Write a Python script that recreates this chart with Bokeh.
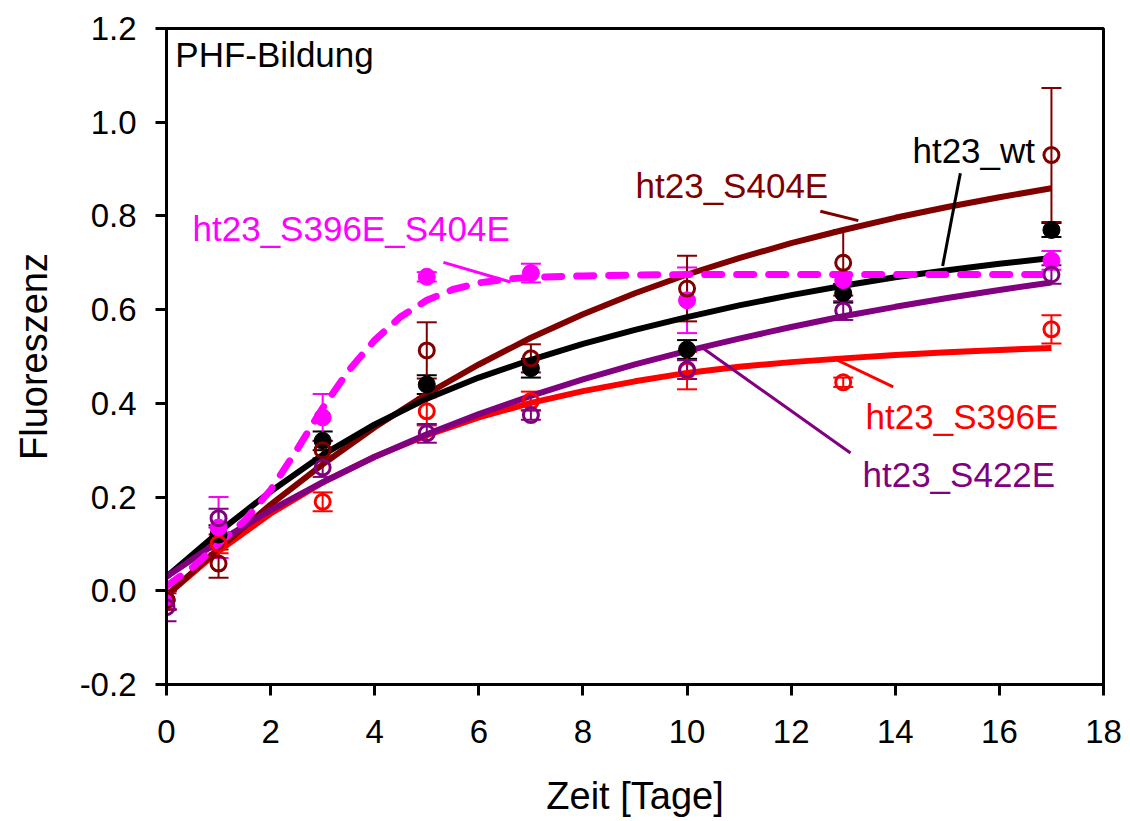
from bokeh.plotting import figure
from bokeh.models import (ColumnDataSource, Whisker, TeeHead, Range1d, FixedTicker,
                          PrintfTickFormatter)
from bokeh.core.properties import value
from bokeh.embed import file_html
from bokeh.resources import INLINE

FONT = "Liberation Sans"

# ---- measured data points (day, mean fluorescence, error) ----
days = [0, 1, 3, 5, 7, 10, 13, 17]

wt_y = [-0.02, 0.12, 0.32, 0.44, 0.475, 0.515, 0.635, 0.77]
wt_e = [0.02, 0.02, 0.02, 0.02, 0.02, 0.02, 0.02, 0.015]

s404_y = [-0.02, 0.058, 0.30, 0.513, 0.496, 0.645, 0.70, 0.93]
s404_e = [0.02, 0.03, 0.02, 0.06, 0.03, 0.07, 0.07, 0.143]

s396_y = [-0.02, 0.10, 0.19, 0.383, 0.405, 0.47, 0.445, 0.558]
s396_e = [0.02, 0.02, 0.02, 0.03, 0.02, 0.04, 0.01, 0.03]

s422_y = [-0.035, 0.155, 0.263, 0.336, 0.375, 0.472, 0.598, 0.675]
s422_e = [0.03, 0.02, 0.02, 0.02, 0.01, 0.02, 0.02, 0.02]

dbl_y = [-0.02, 0.135, 0.37, 0.67, 0.678, 0.62, 0.663, 0.705]
dbl_e = [0.02, 0.065, 0.05, 0.01, 0.02, 0.07, 0.01, 0.02]

# ---- fitted curves ----
fit_x = [0, 1, 2, 3, 4, 5, 6, 7, 8, 9, 10, 11, 12, 13, 14, 15, 16, 17]
wt_fit = [0.03, 0.125, 0.212, 0.29, 0.355, 0.41, 0.455, 0.493, 0.527, 0.557,
          0.584, 0.609, 0.631, 0.651, 0.669, 0.684, 0.698, 0.71]
s404_fit = [-0.01, 0.09, 0.184, 0.27, 0.349, 0.42, 0.483, 0.54, 0.59, 0.635,
            0.675, 0.71, 0.742, 0.77, 0.796, 0.819, 0.84, 0.859]
s396_fit = [-0.01, 0.085, 0.165, 0.231, 0.286, 0.332, 0.37, 0.401, 0.426, 0.447,
            0.465, 0.478, 0.488, 0.496, 0.503, 0.509, 0.514, 0.518]
s422_fit = [0.03, 0.105, 0.172, 0.232, 0.286, 0.334, 0.377, 0.416, 0.451, 0.483,
            0.512, 0.538, 0.563, 0.586, 0.606, 0.625, 0.642, 0.658]
dbl_fit_x = [0, 0.5, 1, 1.5, 2, 2.5, 3, 3.5, 4, 4.5, 5, 5.5, 6, 6.5, 7, 8, 9,
             10, 11, 12, 13, 14, 15, 16, 17]
dbl_fit = [0.01, 0.05, 0.10, 0.15, 0.215, 0.30, 0.39, 0.47, 0.535, 0.585, 0.62,
           0.643, 0.657, 0.665, 0.669, 0.672, 0.674, 0.675, 0.675, 0.675, 0.675,
           0.675, 0.675, 0.675, 0.675]

x_ticks = [0, 2, 4, 6, 8, 10, 12, 14, 16, 18]
y_ticks = [-0.2, 0.0, 0.2, 0.4, 0.6, 0.8, 1.0, 1.2]

BLACK = "#000000"
DARKRED = "#800000"
RED = "#FF0000"
PURPLE = "#800080"
MAGENTA = "#FF00FF"

# annotation labels: text, colour, anchor (data coords), leader line (data coords)
labels = [
    ("ht23_wt", BLACK, 14.33, 0.940, [15.25, 14.91], [0.891, 0.693]),
    ("ht23_S404E", DARKRED, 9.01, 0.866, [12.56, 13.29], [0.810, 0.790]),
    ("ht23_S396E_S404E", MAGENTA, 0.50, 0.774, [5.32, 6.61], [0.701, 0.659]),
    ("ht23_S396E", RED, 13.43, 0.373, [12.89, 13.96], [0.492, 0.435]),
    ("ht23_S422E", PURPLE, 13.37, 0.249, [10.30, 13.14], [0.518, 0.294]),
]

p = figure(width=1130, height=821, output_backend="svg", toolbar_location=None,
           x_range=Range1d(0, 18), y_range=Range1d(-0.2, 1.2),
           min_border_left=166, min_border_right=27, min_border_top=28,
           min_border_bottom=137)
p.background_fill_color = "white"
p.border_fill_color = "white"
p.outline_line_color = "black"
p.outline_line_width = 3
p.xgrid.visible = False
p.ygrid.visible = False

for ax in (p.xaxis[0], p.yaxis[0]):
    ax.axis_line_width = 3
    ax.axis_line_color = "black"
    ax.major_tick_in = 0
    ax.major_tick_out = 11
    ax.major_tick_line_width = 3
    ax.minor_tick_line_color = None
    ax.major_label_text_font = FONT
    ax.major_label_text_font_size = "33px"
    ax.major_label_text_color = "black"
    ax.axis_label_text_font = FONT
    ax.axis_label_text_font_size = "38px"
    ax.axis_label_text_font_style = "normal"
    ax.axis_label_text_color = "black"

p.xaxis.ticker = FixedTicker(ticks=x_ticks)
p.yaxis.ticker = FixedTicker(ticks=y_ticks)
p.yaxis.formatter = PrintfTickFormatter(format="%.1f")
p.xaxis.axis_label = "Zeit [Tage]"
p.yaxis.axis_label = "Fluoreszenz"
p.xaxis.major_label_standoff = 24
p.yaxis.major_label_standoff = 19
p.xaxis.axis_label_standoff = 29
p.yaxis.axis_label_standoff = 22

# fitted curves
p.line(fit_x, s396_fit, line_color=RED, line_width=6)
p.line(fit_x, s404_fit, line_color=DARKRED, line_width=6)
p.line(fit_x, wt_fit, line_color=BLACK, line_width=6)
p.line(fit_x, s422_fit, line_color=PURPLE, line_width=6)
p.line(dbl_fit_x, dbl_fit, line_color=MAGENTA, line_width=7,
       line_dash="17 15", line_cap="round", line_join="round")

series = [
    (wt_y, wt_e, BLACK, True),
    (s396_y, s396_e, RED, False),
    (dbl_y, dbl_e, MAGENTA, True),
    (s404_y, s404_e, DARKRED, False),
    (s422_y, s422_e, PURPLE, False),
]
for ys, es, col, filled in series:
    src = ColumnDataSource(dict(x=days, y=ys,
                                lo=[a - b for a, b in zip(ys, es)],
                                hi=[a + b for a, b in zip(ys, es)]))
    w = Whisker(source=src, base="x", lower="lo", upper="hi", dimension="height",
                line_color=col, line_width=2,
                lower_head=TeeHead(size=20, line_color=col, line_width=2),
                upper_head=TeeHead(size=20, line_color=col, line_width=2))
    p.add_layout(w)
    if filled:
        p.scatter("x", "y", source=src, marker="circle", size=17,
                  fill_color=col, line_color=col, line_width=1)
    else:
        p.scatter("x", "y", source=src, marker="circle", size=15,
                  fill_color=None, line_color=col, line_width=3)

# labels and leader lines
for txt, col, tx, ty, lx, ly in labels:
    p.line(lx, ly, line_color=col, line_width=3)
    p.text(x=[tx], y=[ty], text=[txt], text_color=col, text_font=value(FONT),
           text_font_size="35px", text_baseline="middle", text_align="left")

p.text(x=[0.17], y=[1.145], text=["PHF-Bildung"], text_color="black",
       text_font=value(FONT), text_font_size="35px", text_baseline="middle",
       text_align="left")

open("out.html", "w").write(file_html(p, INLINE))
